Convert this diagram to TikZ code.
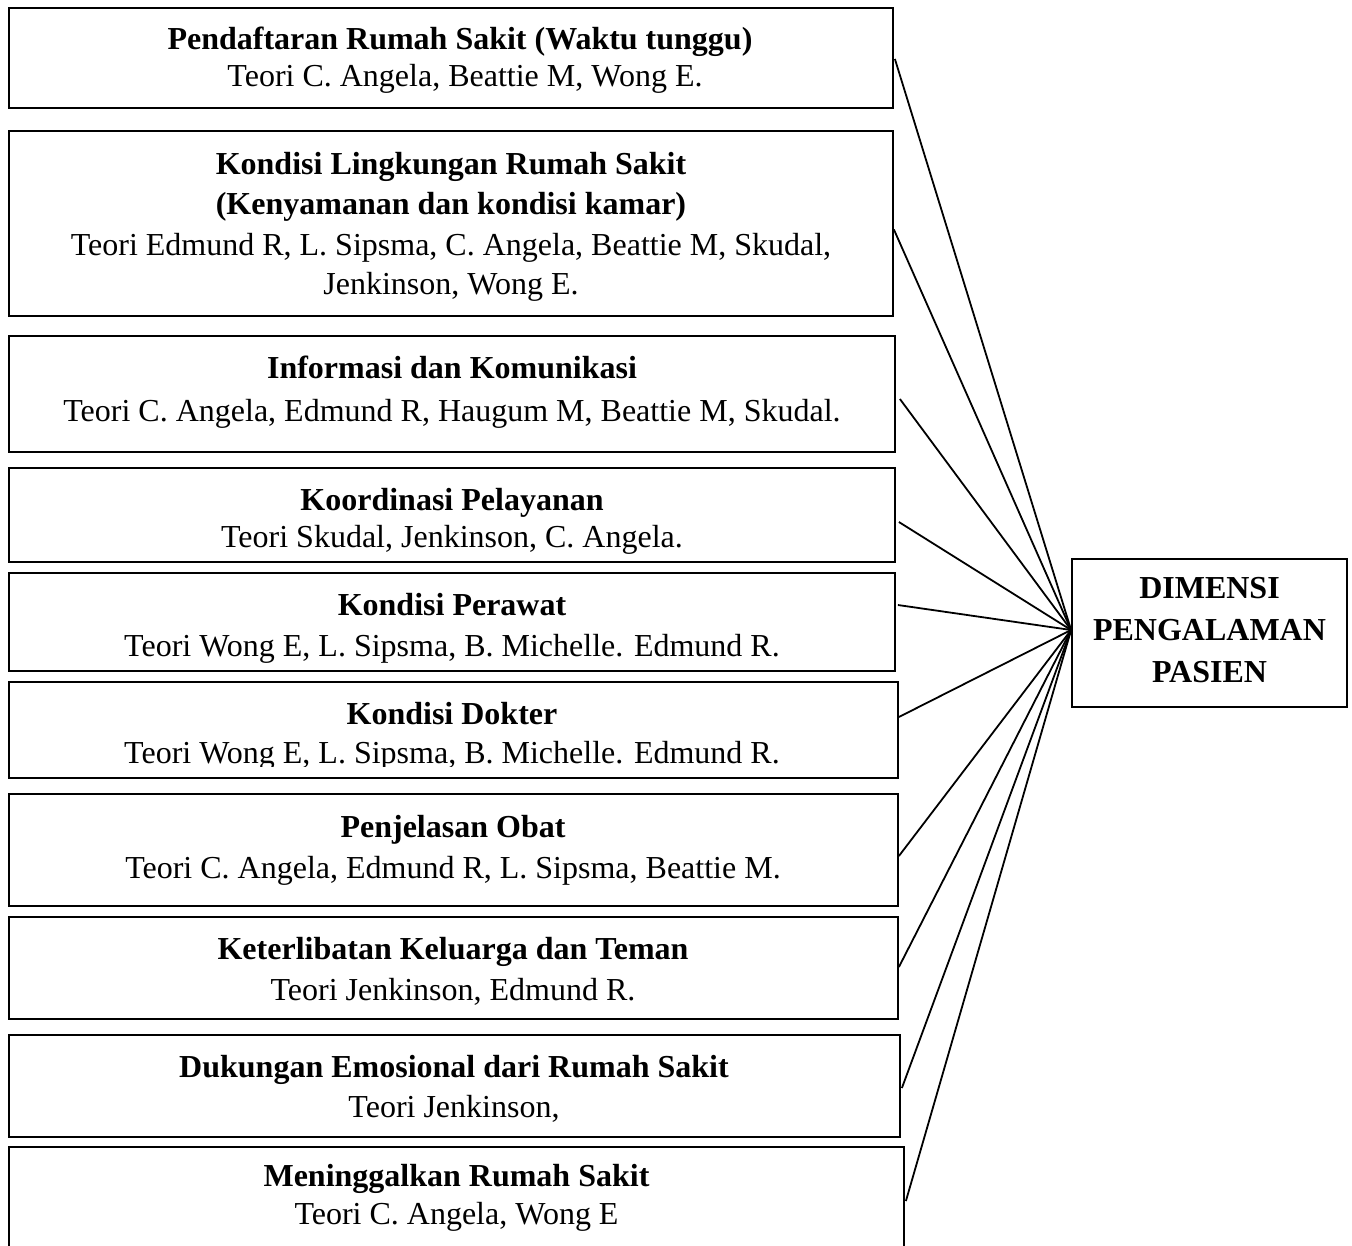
\documentclass[tikz,border=0pt]{standalone}
\usepackage{fontspec}
\setmainfont{Liberation Serif}
\begin{document}
\begin{tikzpicture}[x=1pt,y=-1pt,
  box/.style={draw, line width=1.8pt, rectangle, inner sep=0pt},
  hd/.style={inner sep=0pt, anchor=base, font=\bfseries\fontsize{32}{40}\selectfont},
  tx/.style={inner sep=0pt, anchor=base, font=\fontsize{32}{40}\selectfont},
  link/.style={line width=1.8pt}]
\clip (0,0) rectangle (1352,1245);
\fill[white] (0,0) rectangle (1352,1245);

% boxes
\node[box, minimum width=884pt, minimum height=100pt] (b1) at (451,58) {};
\node[box, minimum width=884pt, minimum height=185pt] (b2) at (451,223.5) {};
\node[box, minimum width=886pt, minimum height=116pt] (b3) at (452,394) {};
\node[box, minimum width=886pt, minimum height=94pt] (b4) at (452,515) {};
\node[box, minimum width=886pt, minimum height=98pt] (b5) at (452,622) {};
\node[box, minimum width=889pt, minimum height=96pt] (b6) at (453.5,730) {};
\node[box, minimum width=889pt, minimum height=112pt] (b7) at (453.5,850) {};
\node[box, minimum width=889pt, minimum height=102pt] (b8) at (453.5,968) {};
\node[box, minimum width=891pt, minimum height=102pt] (b9) at (454.5,1086) {};
\node[box, minimum width=895pt, minimum height=110pt] (b10) at (456.5,1202) {};
\node[box, minimum width=275pt, minimum height=148pt] (R) at (1209.5,633) {};

% texts
\node[hd] (t1a) at (460,49) {Pendaftaran Rumah Sakit (Waktu tunggu)};
\node[tx] (t1b) at (465,86) {Teori C. Angela, Beattie M, Wong E.};

\node[hd] (t2a) at (451,174) {Kondisi Lingkungan Rumah Sakit};
\node[hd] (t2b) at (451,214) {(Kenyamanan dan kondisi kamar)};
\node[tx] (t2c) at (451,255) {Teori Edmund R, L. Sipsma, C. Angela, Beattie M, Skudal,};
\node[tx] (t2d) at (451,294) {Jenkinson, Wong E.};

\node[hd] (t3a) at (452,378) {Informasi dan Komunikasi};
\node[tx] (t3b) at (452,421) {Teori C. Angela, Edmund R, Haugum M, Beattie M, Skudal.};

\node[hd] (t4a) at (452,510) {Koordinasi Pelayanan};
\node[tx] (t4b) at (452,547) {Teori Skudal, Jenkinson, C. Angela.};

\node[hd] (t5a) at (452,615) {Kondisi Perawat};
\node[tx] (t5b) at (452,656) {Teori Wong E, L. Sipsma, B. Michelle. Edmund R.};

\begin{scope}
  \clip (10,684) rectangle (896,766);
  \node[hd] (t6a) at (452,724) {Kondisi Dokter};
  \node[tx] (t6b) at (452,763) {Teori Wong E, L. Sipsma, B. Michelle. Edmund R.};
\end{scope}

\node[hd] (t7a) at (453,837) {Penjelasan Obat};
\node[tx] (t7b) at (453,878) {Teori C. Angela, Edmund R, L. Sipsma, Beattie M.};

\node[hd] (t8a) at (453,959) {Keterlibatan Keluarga dan Teman};
\node[tx] (t8b) at (453,1000) {Teori Jenkinson, Edmund R.};

\node[hd] (t9a) at (454,1077) {Dukungan Emosional dari Rumah Sakit};
\node[tx] (t9b) at (454,1117) {Teori Jenkinson,};

\node[hd] (t10a) at (456.5,1186) {Meninggalkan Rumah Sakit};
\node[tx] (t10b) at (456.5,1224) {Teori C. Angela, Wong E};

\node[hd] (Ra) at (1209.5,598) {DIMENSI};
\node[hd] (Rb) at (1209.5,640) {PENGALAMAN};
\node[hd] (Rc) at (1209.5,682) {PASIEN};

% connectors
\coordinate (hub) at ([yshift=3pt]R.west);
\draw[link] ([yshift=-1pt,xshift=1pt]b1.east) -- (hub);
\draw[link] ([yshift=-6pt]b2.east) -- (hub);
\draw[link] ([yshift=-5pt,xshift=4pt]b3.east) -- (hub);
\draw[link] ([yshift=-7pt,xshift=3pt]b4.east) -- (hub);
\draw[link] ([yshift=17pt,xshift=2pt]b5.east) -- (hub);
\draw[link] ([yshift=13pt]b6.east) -- (hub);
\draw[link] ([yshift=-6pt]b7.east) -- (hub);
\draw[link] ([yshift=1pt]b8.east) -- (hub);
\draw[link] ([yshift=-2pt,xshift=1pt]b9.east) -- (hub);
\draw[link] ([yshift=1pt,xshift=1pt]b10.east) -- (hub);
\end{tikzpicture}
\end{document}
